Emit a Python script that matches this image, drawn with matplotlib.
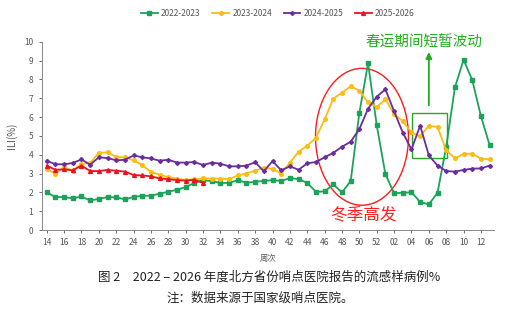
import numpy as np
import matplotlib
matplotlib.use("Agg")
import matplotlib.pyplot as plt
from matplotlib.patches import Ellipse, Rectangle

plt.rcParams['font.family'] = ['Noto Sans CJK SC', 'DejaVu Sans']

# Weeks: 14..52 then 01..13
weeks = [str(w) for w in range(14, 53)] + ["%02d" % w for w in range(1, 14)]

ili_2022 = [2.0, 1.75, 1.75, 1.68, 1.78, 1.57, 1.65, 1.75, 1.73, 1.63, 1.75, 1.82, 1.82,
            1.93, 2.03, 2.14, 2.28, 2.5, 2.65, 2.6, 2.5, 2.5, 2.65, 2.5, 2.57, 2.6, 2.65,
            2.6, 2.76, 2.7, 2.5, 2.03, 2.05, 2.42, 2.0, 2.6, 6.23, 8.85, 5.56, 2.96, 1.95,
            1.98, 2.0, 1.49, 1.36, 1.98, 4.42, 7.57, 9.04, 7.96, 6.04, 4.5]
ili_2023 = [3.22, 3.0, 3.33, 3.15, 3.5, 3.56, 4.1, 4.12, 3.88, 3.86, 3.7, 3.45, 3.08,
            2.94, 2.8, 2.73, 2.65, 2.7, 2.74, 2.73, 2.73, 2.7, 2.9, 3.0, 3.16, 3.3, 3.24,
            3.0, 3.58, 4.16, 4.48, 4.9, 5.88, 6.97, 7.3, 7.63, 7.4, 6.78, 6.53, 6.94, 6.16,
            5.77, 5.19, 4.97, 5.54, 5.47, 4.23, 3.8, 4.04, 4.05, 3.79, 3.75]
ili_2024 = [3.68, 3.49, 3.49, 3.56, 3.75, 3.47, 3.86, 3.82, 3.7, 3.73, 3.96, 3.86, 3.8,
            3.68, 3.73, 3.58, 3.58, 3.61, 3.45, 3.58, 3.52, 3.38, 3.38, 3.42, 3.6, 3.12, 3.66,
            3.17, 3.38, 3.2, 3.54, 3.61, 3.86, 4.1, 4.42, 4.69, 5.36, 6.44, 7.08, 7.47, 6.3,
            5.17, 4.28, 5.54, 3.96, 3.42, 3.13, 3.1, 3.19, 3.26, 3.27, 3.42]
ili_2025 = [3.42, 3.2, 3.22, 3.17, 3.42, 3.13, 3.13, 3.19, 3.15, 3.1, 2.92, 2.9, 2.85,
            2.74, 2.7, 2.65, 2.62, 2.67, 2.5]

series = [
    ("2022-2023", ili_2022, '#1ba35a', 's', 2.5),
    ("2023-2024", ili_2023, '#fbbd14', 'o', 2.6),
    ("2024-2025", ili_2024, '#6a2c9e', 'D', 2.0),
    ("2025-2026", ili_2025, '#e8131e', '^', 2.8),
]

fig = plt.figure(figsize=(5.09, 3.22), dpi=100)
ax = fig.add_axes([0.0819, 0.2857, 0.8886, 0.5848])

x_all = np.arange(len(weeks))
for name, vals, color, marker, ms in series:
    ax.plot(x_all[:len(vals)], vals, color=color, linewidth=1.3, marker=marker,
            markersize=ms, label=name)

ax.set_xlim(-0.58, 51.5)
ax.set_ylim(0, 10)
ax.set_yticks(range(0, 11))
ax.set_xticks(x_all[::2])
ax.set_xticklabels(weeks[::2])
ax.tick_params(labelsize=6, colors='#555555', length=2.5, width=0.6)
for s in ['top', 'right']:
    ax.spines[s].set_visible(False)
for s in ['left', 'bottom']:
    ax.spines[s].set_color('#888888')
    ax.spines[s].set_linewidth(0.7)

ax.set_xlabel('周次', fontsize=6, color='#555555', labelpad=5)
ax.set_ylabel('ILI(%)', fontsize=7, color='#555555')
ax.yaxis.set_label_coords(-0.055, 0.5)

leg = fig.legend(loc='center', bbox_to_anchor=(0.546, 0.957), ncol=4, frameon=False,
                 fontsize=6, handlelength=2.0, columnspacing=1.4, handletextpad=0.4)
for t in leg.get_texts():
    t.set_color('#555555')

# annotations
ax.add_patch(Ellipse((36.3, 4.95), 10.7, 7.27, fill=False, edgecolor='#ff1a1a', linewidth=1.0))
ax.text(36.5, 0.8, '冬季高发', color='#ff2020', fontsize=12, ha='center', va='center')
ax.add_patch(Rectangle((42.1, 3.8), 4.0, 2.4, fill=False, edgecolor='#22aa22', linewidth=1.0))
ax.annotate('', xy=(44.0, 9.6), xytext=(44.0, 6.47),
            arrowprops=dict(arrowstyle='-|>', color='#22aa22', linewidth=1.3, mutation_scale=9))
ax.text(43.4, 9.98, '春运期间短暂波动', color='#22b022', fontsize=10.5, ha='center', va='center',
        clip_on=False)

fig.text(0.529, 0.140, '图 2　2022 – 2026 年度北方省份哨点医院报告的流感样病例%', fontsize=9,
         ha='center', va='center', color='#222222')
fig.text(0.511, 0.0745, '注：数据来源于国家级哨点医院。', fontsize=9, ha='center', va='center',
         color='#222222')

fig.savefig('out.png', dpi=100)
